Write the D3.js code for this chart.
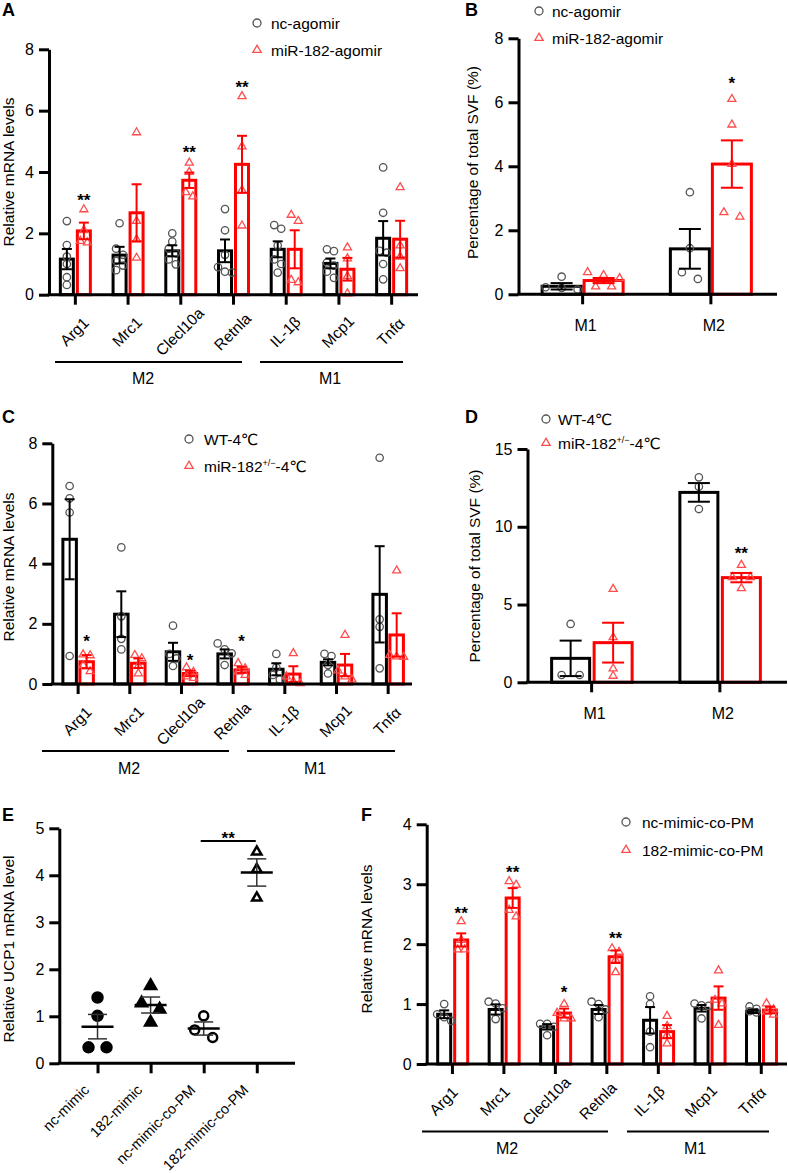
<!DOCTYPE html>
<html><head><meta charset="utf-8">
<script src="https://cdn.jsdelivr.net/npm/d3@7"></script>
<style>body{margin:0;background:#fff} svg{display:block}</style>
</head><body>
<script>
// ---------------- DATA ----------------
const geneCats = ["Arg1","Mrc1","Clecl10a","Retnla","IL-1β","Mcp1","Tnfα"];
const macroCats = ["M1","M2"];

// Panel A
const aNcMean = [1.16,1.29,1.43,1.43,1.48,1.02,1.84];
const aNcSem  = [0.33,0.27,0.18,0.37,0.26,0.16,0.56];
const aNcPts  = [[2.40,1.62,1.24,1.0,0.57,0.32],[2.33,1.5,1.3,1.1,0.95,0.8],[2.0,1.73,1.5,1.35,1.15,0.99],[2.79,2.1,1.3,0.9,0.75,0.72],[2.27,2.15,1.6,1.15,1.0,0.72],[1.48,1.42,1.05,0.95,0.75,0.55],[4.15,2.67,1.43,1.37,1.0,0.5]];
const aAgoMean = [2.08,2.67,3.73,4.25,1.48,0.83,1.81];
const aAgoSem  = [0.27,0.93,0.25,0.93,0.62,0.37,0.6];
const aAgoPts  = [[2.78,2.1,1.75,1.7],[5.29,2.4,1.8,1.2],[4.3,4.0,3.34,3.2],[6.47,4.83,3.41,2.25],[2.6,2.4,0.48,0.4],[1.54,1.18,0.6,0.04],[3.5,1.6,1.24,0.86]];
const aSig = [["Arg1","**",3.25],["Clecl10a","**",4.81],["Retnla","**",6.93]];

// Panel B
const bNcMean = [0.25,1.42], bNcSem = [0.1,0.62];
const bNcPts = [[0.55,0.22,0.2,0.15],[3.19,1.44,0.69,0.48]];
const bAgoMean = [0.43,4.07], bAgoSem = [0.08,0.74];
const bAgoPts = [[0.69,0.6,0.5,0.24,0.24],[6.1,5.3,4.07,2.56,2.42]];
const bSig = [["M2","*",6.73]];

// Panel C
const cWtMean = [4.81,2.32,1.07,1.0,0.49,0.72,2.98];
const cWtSem  = [1.33,0.76,0.3,0.15,0.2,0.1,1.6];
const cWtPts  = [[6.58,6.17,5.7,0.93],[4.54,2.25,1.5,1.15],[1.94,1.0,0.85,0.6],[1.35,1.15,1.02,0.63],[1.0,0.55,0.3,0.15],[1.0,0.93,0.63,0.35],[7.52,2.15,1.9,0.52]];
const cKoMean = [0.74,0.69,0.35,0.47,0.33,0.63,1.63];
const cKoSem  = [0.22,0.16,0.09,0.1,0.26,0.37,0.72];
const cKoPts  = [[0.98,0.95,0.62,0.42],[0.96,0.85,0.6,0.35],[0.55,0.4,0.25,0.2],[0.69,0.52,0.41,0.3],[1.02,0.25,0.08,0.02],[1.63,0.45,0.25,0.15],[3.77,0.96,0.91,0.9]];
const cSig = [["Arg1","*",1.57],["Clecl10a","*",0.96],["Retnla","*",1.57]];

// Panel D
const dWtMean = [1.54,12.21], dWtSem = [1.14,0.6];
const dWtPts = [[3.75,0.47,0.47],[13.18,12.58,11.14]];
const dKoMean = [2.55,6.73], dKoSem = [1.28,0.3];
const dKoPts = [[6.0,2.89,0.88,0.41],[7.54,6.75,6.75,6.04]];
const dSig = [["M2","**",8.62]];

// Panel E
const eCats = ["nc-mimic","182-mimic","nc-mimic-co-PM","182-mimic-co-PM"];
const ePts  = [[1.40,1.01,0.34,0.34],[1.65,1.28,1.15,0.87],[1.01,0.71,0.55],[4.5,4.13,3.52]];
const eMean = [0.78,1.24,0.74,4.06];
const eSem  = [0.26,0.17,0.14,0.29];
const eSig  = [["nc-mimic-co-PM","182-mimic-co-PM","**",4.73]];

// Panel F
const fNcMean = [0.83,0.91,0.62,0.91,0.73,0.93,0.88];
const fNcSem  = [0.065,0.085,0.045,0.075,0.22,0.055,0.03];
const fNcPts  = [[1.0,0.83,0.78,0.72],[1.04,1.01,0.93,0.75],[0.67,0.67,0.62,0.48],[1.04,1.0,0.91,0.78],[1.13,1.0,0.54,0.28],[1.01,0.98,0.97,0.76],[0.96,0.92,0.88,0.86]];
const fPmMean = [2.07,2.77,0.85,1.79,0.54,1.10,0.90];
const fPmSem  = [0.11,0.165,0.075,0.105,0.11,0.195,0.055];
const fPmPts  = [[2.38,2.07,1.91,1.91],[3.05,2.99,2.57,2.46],[1.0,0.85,0.76,0.76],[1.93,1.87,1.74,1.53],[0.8,0.63,0.48,0.34],[1.56,1.07,1.01,0.65],[1.01,0.91,0.87,0.82]];
const fSig = [["Arg1","**",2.59],["Mrc1","**",3.28],["Clecl10a","*",1.27],["Retnla","**",2.18]];

const yTicks8 = [0,2,4,6,8], yTicks15 = [0,5,10,15], yTicks5 = [0,1,2,3,4,5], yTicks4 = [0,1,2,3,4];

// ---------------- STYLE ----------------
const FONT = "'Liberation Sans', Arial, 'DejaVu Sans', 'Noto Sans CJK SC', sans-serif";
const RED = "#ff0000", PT_GRAY = "#555", PT_RED = "#ff4d4d";
const svg = d3.select("body").append("svg").attr("width",788).attr("height",1173)
  .style("font-family",FONT);

function marker(g, type, cx, cy, color, opts){
  if(type==="circle"){
    g.append("circle").attr("cx",cx).attr("cy",cy).attr("r",opts.r)
      .attr("fill",opts.fill||"none").attr("stroke",color).attr("stroke-width",opts.sw);
  } else {
    g.append("path").attr("d",d3.symbol(d3.symbolTriangle,opts.size)())
      .attr("transform",`translate(${cx},${cy})`)
      .attr("fill",opts.fill||"none").attr("stroke",color).attr("stroke-width",opts.sw)
      .attr("stroke-linejoin","miter");
  }
}

function layoutPts(vals, y, thresh, step){
  const arr = vals.map(v=>({v, py:y(v)})).sort((a,b)=>a.py-b.py);
  const clusters=[]; let cur=[];
  arr.forEach(p=>{
    if(cur.length && p.py-cur[cur.length-1].py < thresh) cur.push(p);
    else { if(cur.length) clusters.push(cur); cur=[p]; }
  });
  if(cur.length) clusters.push(cur);
  clusters.forEach(c=>{
    const n=c.length;
    if(n<=3) c.forEach((p,i)=>p.dx=(i-(n-1)/2)*step);
    else c.forEach((p,i)=>p.dx=(i%2?1:-1)*step/2);
  });
  return arr;
}

function panelLetter(t,x,y){
  svg.append("text").attr("x",x).attr("y",y).attr("font-size",18).attr("font-weight","bold").text(t);
}

function yLabel(t,x,y){
  svg.append("text").attr("transform",`translate(${x},${y}) rotate(-90)`)
    .attr("text-anchor","middle").attr("dy","0.35em").attr("font-size",15.5).text(t);
}

function legend(items,x,ys,tx){
  items.forEach((it,i)=>{
    const g=svg.append("g");
    marker(g,it.type,x,ys[i],it.color,it.type==="circle"?{r:4,sw:1.3}:{size:30,sw:1.3});
    const t=svg.append("text").attr("x",tx).attr("y",ys[i]+5.5).attr("font-size",15.5);
    if(it.sup){
      t.append("tspan").text(it.label);
      t.append("tspan").attr("font-size",9).attr("dy",-6).text(it.sup);
      t.append("tspan").attr("dy",6).attr("font-size",15.5).text(it.after);
    } else t.text(it.label);
  });
}

function styleAxis(ga){
  ga.selectAll("path").attr("stroke","#000").attr("stroke-width",3);
  ga.selectAll("line").attr("stroke","#000").attr("stroke-width",3);
  ga.selectAll("text").attr("font-size",16).attr("fill","#000").style("font-family",FONT);
}

function barPanel(c){
  const g = svg.append("g");
  const x = d3.scaleBand().domain(c.cats).range([c.left,c.right]);
  const y = d3.scaleLinear().domain([0,c.yMax]).range([c.bottom,c.top]);
  const ctr = d=> x(d)+x.bandwidth()/2;
  const bw = c.barW - c.barStroke;
  c.series.forEach((s,si)=>{
    g.append("g").selectAll("rect").data(c.cats).join("rect")
      .attr("x",d=>ctr(d)+c.offsets[si]-bw/2).attr("width",bw)
      .attr("y",(d,i)=>y(s.mean[i])).attr("height",(d,i)=>c.bottom-y(s.mean[i]))
      .attr("fill","none").attr("stroke",s.color).attr("stroke-width",c.barStroke);
  });
  c.series.forEach((s,si)=>{
    const gp=g.append("g");
    c.cats.forEach((d,i)=>{
      layoutPts(s.pts[i],y,c.ptThresh,c.ptStep).forEach(p=>{
        marker(gp,s.shape,ctr(d)+c.offsets[si]+p.dx,p.py,s.ptColor,
          s.shape==="circle"?{r:c.ptR,sw:1.3}:{size:c.triSize,sw:1.3});
      });
    });
  });
  c.series.forEach((s,si)=>{
    const ge=g.append("g").attr("stroke",s.color).attr("stroke-width",c.errW);
    c.cats.forEach((d,i)=>{
      const cx=ctr(d)+c.offsets[si], lo=y(s.mean[i]-s.sem[i]), hi=y(s.mean[i]+s.sem[i]);
      const cw=c.capW/2;
      ge.append("line").attr("x1",cx).attr("x2",cx).attr("y1",lo).attr("y2",hi);
      ge.append("line").attr("x1",cx-cw).attr("x2",cx+cw).attr("y1",hi).attr("y2",hi);
      ge.append("line").attr("x1",cx-cw).attr("x2",cx+cw).attr("y1",lo).attr("y2",lo);
    });
  });
  const ya=g.append("g").attr("transform",`translate(${c.left},0)`)
    .call(d3.axisLeft(y).tickValues(c.yTicks).tickSize(10).tickSizeOuter(0).tickPadding(5).tickFormat(d3.format("d")));
  styleAxis(ya);
  const xa=g.append("g").attr("transform",`translate(0,${c.bottom})`)
    .call(d3.axisBottom(x).tickSize(10).tickSizeOuter(0).tickFormat(""));
  xa.select(".domain").remove();
  styleAxis(xa);
  g.append("line").attr("x1",c.left-1.5).attr("x2",c.axisEnd).attr("y1",c.bottom).attr("y2",c.bottom)
    .attr("stroke","#000").attr("stroke-width",3);
  if(c.rotate){
    g.append("g").selectAll("text").data(c.cats).join("text")
      .attr("transform",d=>`translate(${ctr(d)+c.lblDx},${c.bottom+c.lblDy}) rotate(-45)`)
      .attr("text-anchor","middle").attr("dy","0.35em").attr("font-size",15.5).text(d=>d);
  } else {
    g.append("g").selectAll("text").data(c.cats).join("text")
      .attr("x",d=>ctr(d)+c.lblDx).attr("y",c.bottom+c.lblDy).attr("dy","0.35em")
      .attr("text-anchor","middle").attr("font-size",16).text(d=>d);
  }
  (c.groups||[]).forEach(gr=>{
    g.append("line").attr("x1",gr.x1).attr("x2",gr.x2).attr("y1",c.groupY).attr("y2",c.groupY)
      .attr("stroke","#000").attr("stroke-width",2);
    g.append("text").attr("x",gr.tx).attr("y",c.groupTextY).attr("dy","0.35em")
      .attr("text-anchor","middle").attr("font-size",16).text(gr.label);
  });
  c.sig.forEach(([cat,lab,v])=>{
    g.append("text").attr("x",ctr(cat)+c.offsets[1]).attr("y",y(v)).attr("dy","0.62em")
      .attr("text-anchor","middle").attr("font-size",17).attr("font-weight","bold").text(lab);
  });
}

// ---------------- PANEL A ----------------
barPanel({cats:geneCats,left:49,right:418,axisEnd:418,bottom:294.7,top:49.3,yMax:8,yTicks:yTicks8,
  barW:16,barStroke:3,offsets:[-8.5,8.5],errW:2,capW:10,ptR:3.7,triSize:28,ptThresh:7,ptStep:7,
  series:[{mean:aNcMean,sem:aNcSem,pts:aNcPts,color:"#000",ptColor:PT_GRAY,shape:"circle"},
          {mean:aAgoMean,sem:aAgoSem,pts:aAgoPts,color:RED,ptColor:PT_RED,shape:"triangle"}],
  rotate:true,lblDx:-1,lblDy:37,
  groups:[{x1:55,x2:242,tx:143,label:"M2"},{x1:260,x2:403,tx:330,label:"M1"}],groupY:362,groupTextY:378,
  sig:aSig});
panelLetter("A",2,16);
yLabel("Relative mRNA levels",9,172);
legend([{type:"circle",color:PT_GRAY,label:"nc-agomir"},{type:"triangle",color:PT_RED,label:"miR-182-agomir"}],257,[23,50],271);

// ---------------- PANEL B ----------------
barPanel({cats:macroCats,left:518.5,right:775,axisEnd:777,bottom:294.3,top:38.3,yMax:8,yTicks:yTicks8,
  barW:42,barStroke:3,offsets:[-21,21],errW:2,capW:22,ptR:3.7,triSize:28,ptThresh:7,ptStep:16,
  series:[{mean:bNcMean,sem:bNcSem,pts:bNcPts,color:"#000",ptColor:PT_GRAY,shape:"circle"},
          {mean:bAgoMean,sem:bAgoSem,pts:bAgoPts,color:RED,ptColor:PT_RED,shape:"triangle"}],
  rotate:false,lblDx:3,lblDy:31,sig:bSig});
panelLetter("B",465,16);
yLabel("Percentage of total SVF (%)",473,162.5);
legend([{type:"circle",color:PT_GRAY,label:"nc-agomir"},{type:"triangle",color:PT_RED,label:"miR-182-agomir"}],539,[11,38],552);

// ---------------- PANEL C ----------------
barPanel({cats:geneCats,left:52.3,right:414,axisEnd:412,bottom:684,top:443.3,yMax:8,yTicks:yTicks8,
  barW:16.5,barStroke:3,offsets:[-8.5,8.5],errW:2,capW:10,ptR:3.7,triSize:28,ptThresh:7,ptStep:7,
  series:[{mean:cWtMean,sem:cWtSem,pts:cWtPts,color:"#000",ptColor:PT_GRAY,shape:"circle"},
          {mean:cKoMean,sem:cKoSem,pts:cKoPts,color:RED,ptColor:PT_RED,shape:"triangle"}],
  rotate:true,lblDx:-1,lblDy:37,
  groups:[{x1:42,x2:229,tx:129,label:"M2"},{x1:247,x2:395,tx:315,label:"M1"}],groupY:751,groupTextY:768,
  sig:cSig});
panelLetter("C",2,423);
yLabel("Relative mRNA levels",9,567);
legend([{type:"circle",color:PT_GRAY,label:"WT-4℃"},{type:"triangle",color:PT_RED,label:"miR-182",sup:"+/−",after:"-4℃"}],189,[439,466],204);

// ---------------- PANEL D ----------------
barPanel({cats:macroCats,left:527.5,right:784,axisEnd:787,bottom:682.3,top:449,yMax:15,yTicks:yTicks15,
  barW:41,barStroke:3,offsets:[-21,21.5],errW:2,capW:22,ptR:3.7,triSize:28,ptThresh:7,ptStep:18,
  series:[{mean:dWtMean,sem:dWtSem,pts:dWtPts,color:"#000",ptColor:PT_GRAY,shape:"circle"},
          {mean:dKoMean,sem:dKoSem,pts:dKoPts,color:RED,ptColor:PT_RED,shape:"triangle"}],
  rotate:false,lblDx:3,lblDy:31,sig:dSig});
panelLetter("D",465,423);
yLabel("Percentage of total SVF (%)",475,566);
legend([{type:"circle",color:PT_GRAY,label:"WT-4℃"},{type:"triangle",color:PT_RED,label:"miR-182",sup:"+/−",after:"-4℃"}],546,[419,443],558);

// ---------------- PANEL E ----------------
(function(){
  const c={left:59.3,axisEnd:295,bottom:1063.3,top:828.3};
  const g=svg.append("g");
  const x=d3.scalePoint().domain(eCats).range([c.left,c.axisEnd]).padding(0.72);
  const y=d3.scaleLinear().domain([0,5]).range([c.bottom,c.top]);
  const types=[{t:"circle",fill:"#000"},{t:"triangle",fill:"#000"},{t:"circle",fill:"none"},{t:"triangle",fill:"none"}];
  eCats.forEach((cat,i)=>{
    const ty=types[i];
    layoutPts(ePts[i],y,10,18).forEach(p=>{
      marker(g,ty.t,x(cat)+p.dx,p.py,"#000",ty.t==="circle"?{r:ty.fill==="none"?4.5:5,sw:2.5,fill:ty.fill}:{size:ty.fill==="none"?38:52,sw:2.5,fill:ty.fill});
    });
  });
  eCats.forEach((cat,i)=>{
    const cx=x(cat), lo=y(eMean[i]-eSem[i]), hi=y(eMean[i]+eSem[i]);
    g.append("line").attr("x1",cx).attr("x2",cx).attr("y1",lo).attr("y2",hi).attr("stroke","#333").attr("stroke-width",1.5);
    [lo,hi].forEach(v=>g.append("line").attr("x1",cx-9.5).attr("x2",cx+9.5).attr("y1",v).attr("y2",v).attr("stroke","#333").attr("stroke-width",1.5));
    g.append("line").attr("x1",cx-16).attr("x2",cx+16).attr("y1",y(eMean[i])).attr("y2",y(eMean[i])).attr("stroke","#000").attr("stroke-width",2.5);
  });
  eSig.forEach(([a,b,lab,v])=>{
    g.append("line").attr("x1",x(a)-3).attr("x2",x(b)-1).attr("y1",y(v)).attr("y2",y(v)).attr("stroke","#000").attr("stroke-width",2);
    g.append("text").attr("x",(x(a)+x(b))/2-2).attr("y",y(v)-8).attr("dy","0.62em").attr("text-anchor","middle")
      .attr("font-size",17).attr("font-weight","bold").text(lab);
  });
  const ya=g.append("g").attr("transform",`translate(${c.left},0)`)
    .call(d3.axisLeft(y).tickValues(yTicks5).tickSize(10).tickSizeOuter(0).tickPadding(5).tickFormat(d3.format("d")));
  styleAxis(ya);
  const xa=g.append("g").attr("transform",`translate(0,${c.bottom})`)
    .call(d3.axisBottom(x).tickSize(10).tickSizeOuter(0).tickFormat(""));
  xa.select(".domain").remove();
  styleAxis(xa);
  g.append("line").attr("x1",c.left-1.5).attr("x2",c.axisEnd).attr("y1",c.bottom).attr("y2",c.bottom).attr("stroke","#000").attr("stroke-width",3);
  g.append("g").selectAll("text").data(eCats).join("text")
    .attr("transform",d=>`translate(${x(d)-11},${c.bottom+24}) rotate(-45)`)
    .attr("text-anchor","end").attr("dy","0.35em").attr("font-size",14.5).text(d=>d);
})();
panelLetter("E",2,821);
yLabel("Relative UCP1 mRNA level",9,949);

// ---------------- PANEL F ----------------
barPanel({cats:geneCats,left:426.7,right:787,axisEnd:787,bottom:1064,top:824.3,yMax:4,yTicks:yTicks4,
  barW:16,barStroke:3,offsets:[-8.25,8.75],errW:2,capW:10,ptR:3.7,triSize:28,ptThresh:7,ptStep:7,
  series:[{mean:fNcMean,sem:fNcSem,pts:fNcPts,color:"#000",ptColor:PT_GRAY,shape:"circle"},
          {mean:fPmMean,sem:fPmSem,pts:fPmPts,color:RED,ptColor:PT_RED,shape:"triangle"}],
  rotate:true,lblDx:-9,lblDy:37,
  groups:[{x1:422,x2:608,tx:507,label:"M2"},{x1:627,x2:769,tx:695,label:"M1"}],groupY:1131.5,groupTextY:1148,
  sig:fSig});
panelLetter("F",361,821);
yLabel("Relative mRNA levels",367,939);
legend([{type:"circle",color:PT_GRAY,label:"nc-mimic-co-PM"},{type:"triangle",color:PT_RED,label:"182-mimic-co-PM"}],626,[822,850],642);
</script></body></html>
